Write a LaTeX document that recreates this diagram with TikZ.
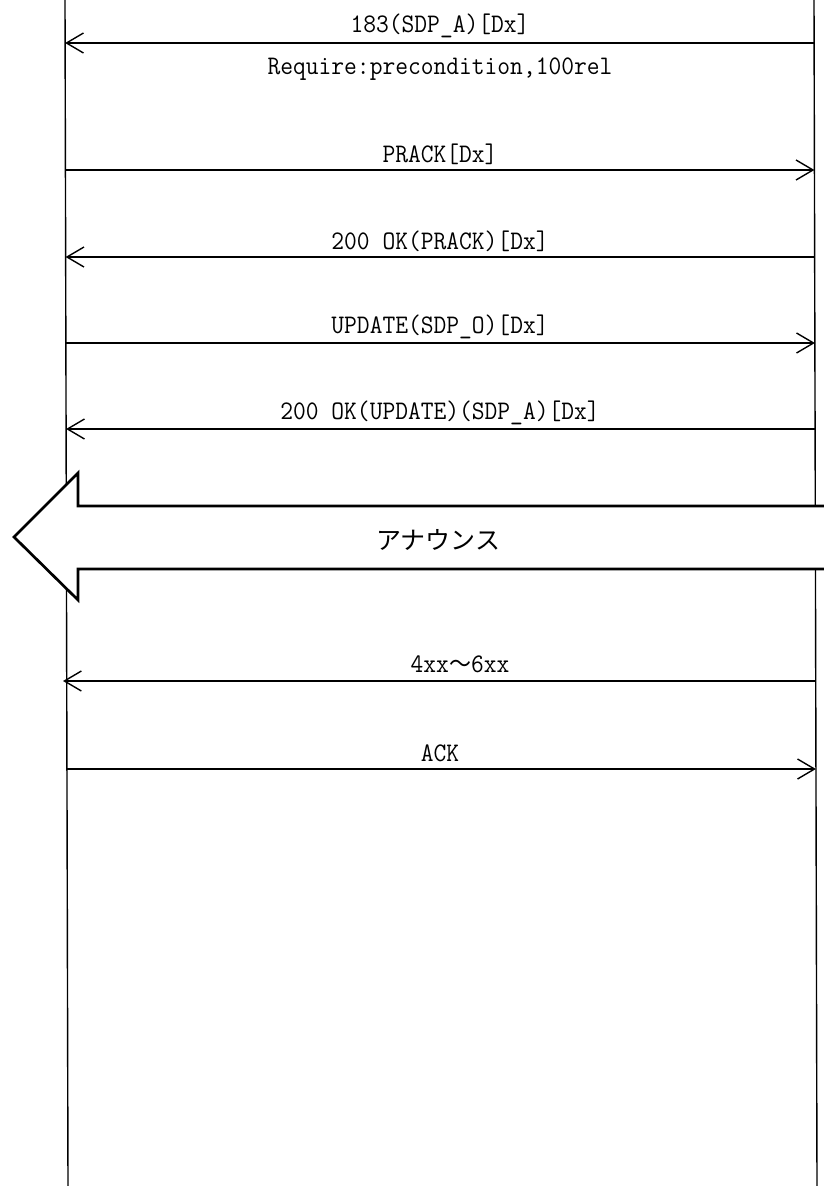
\documentclass[tikz,border=0pt]{standalone}
\usepackage{graphicx}
\usepackage{fontspec}
\newfontfamily\jp{Noto Sans CJK JP}
\newcommand\tallt[1]{\scalebox{1}[1.08]{#1}}
\usetikzlibrary{arrows.meta}
\begin{document}
\begin{tikzpicture}[x=1pt,y=-1pt,
  lifeline/.style={line width=1.4pt},
  msg/.style={line width=1.4pt,-{Straight Barb[length=17pt,width=20pt,line width=1.4pt]}},
  lbl/.style={inner sep=0pt,font=\ttfamily\fontsize{24.8}{28}\selectfont},
  bigarrow/.style={draw,fill=white,line width=2.7pt,line join=miter}]
\useasboundingbox (0,0) rectangle (823,1186);
% lifelines
\coordinate (Ltop) at (65,0);
\coordinate (Lbot) at (68,1186);
\coordinate (Rtop) at (814,0);
\coordinate (Rbot) at (817,1186);
\draw[lifeline] (Ltop) -- (Lbot);
\draw[lifeline] (Rtop) -- (Rbot);
% message end points
\coordinate (m1r) at (814.1,43);  \coordinate (m1l) at (65.1,43);
\coordinate (m2l) at (65.4,170);  \coordinate (m2r) at (814.4,170);
\coordinate (m3r) at (814.6,257); \coordinate (m3l) at (65.6,257);
\coordinate (m4l) at (65.9,343);  \coordinate (m4r) at (814.9,343);
\coordinate (m5r) at (815.1,429); \coordinate (m5l) at (66.1,429);
\coordinate (m7r) at (815.7,681); \coordinate (m7l) at (63,681);
\coordinate (m8l) at (66.9,769);  \coordinate (m8r) at (815.9,769);
% messages
\draw[msg] (m1r) -- (m1l);
\node[lbl] (t1) at (440,26) {\tallt{183(SDP\_A)[Dx]}};
\node[lbl] (t1b) at (440,69) {\tallt{Require:precondition,100rel}};
\draw[msg] (m2l) -- (m2r);
\node[lbl] (t2) at (440,154) {\tallt{PRACK[Dx]}};
\draw[msg] (m3r) -- (m3l);
\node[lbl] (t3) at (440,241) {\tallt{200 OK(PRACK)[Dx]}};
\draw[msg] (m4l) -- (m4r);
\node[lbl] (t4) at (440,327) {\tallt{UPDATE(SDP\_O)[Dx]}};
\draw[msg] (m5r) -- (m5l);
\node[lbl] (t5) at (440,413) {\tallt{200 OK(UPDATE)(SDP\_A)[Dx]}};
% big announce arrow
\draw[bigarrow] (14,537) -- (78,473) -- (78,506) -- (835,506) -- (835,569) -- (78,569) -- (78,600) -- cycle;
\node[lbl,font=\jp\fontsize{25}{28}\selectfont] (ann) at (438,540) {アナウンス};
\draw[msg] (m7r) -- (m7l);
\node[lbl] (t7) at (460,664) {\tallt{4xx{\jp\fontsize{22}{24}\selectfont ～}6xx}};
\draw[msg] (m8l) -- (m8r);
\node[lbl] (t8) at (440,753) {\tallt{ACK}};
\end{tikzpicture}
\end{document}
